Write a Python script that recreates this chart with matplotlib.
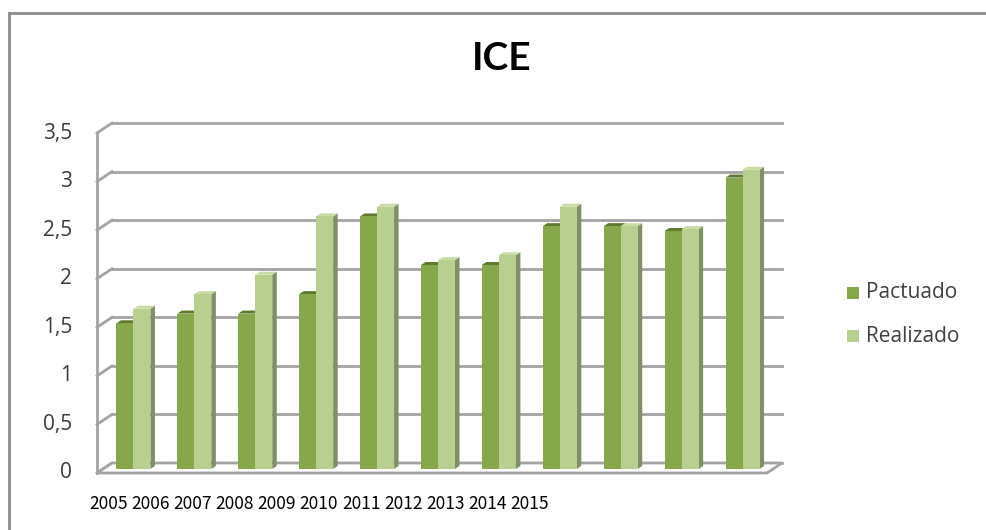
import numpy as np
import matplotlib
matplotlib.use("Agg")
import matplotlib.pyplot as plt
from matplotlib.patches import Polygon
from matplotlib.lines import Line2D

years = ['2005', '2006', '2007', '2008', '2009', '2010', '2011', '2012', '2013', '2014', '2015']
pactuado = [1.5, 1.6, 1.6, 1.8, 2.6, 2.1, 2.1, 2.5, 2.5, 2.45, 3.0]
realizado = [1.65, 1.8, 2.0, 2.6, 2.7, 2.15, 2.2, 2.7, 2.5, 2.47, 3.08]
yticks = [0, 0.5, 1, 1.5, 2, 2.5, 3, 3.5]
yticklabels = ['0', '0,5', '1', '1,5', '2', '2,5', '3', '3,5']

W, H = 987, 530
fig = plt.figure(figsize=(W / 100, H / 100), dpi=100)

# plane of the bar fronts, in pixels
left_px, right_px, bottom_px, top_px = 103, 773, 469, 129
ax = fig.add_axes([left_px / W, 1 - bottom_px / H,
                   (right_px - left_px) / W, (bottom_px - top_px) / H])
ax.set_xlim(-0.5, 10.5)
ax.set_ylim(0, 3.5)
ax.axis('off')

ppx = (right_px - left_px) / 11.0   # pixels per x unit
ppy = (bottom_px - top_px) / 3.5    # pixels per y unit

def off(dx, dy):
    # pixel offset -> data offset (dy positive = up)
    return dx / ppx, dy / ppy

grid_col = '#a3a3a3'
back = off(9, 6)
front = off(-6, -4)
x0, x1 = -0.5, 10.5

# back wall grid + left wall diagonals
for v in yticks:
    ax.add_line(Line2D([x0 + back[0], x1 + back[0]], [v + back[1], v + back[1]],
                       color=grid_col, lw=2, clip_on=False, zorder=1))
    ax.add_line(Line2D([x0 + front[0], x0 + back[0]], [v + front[1], v + back[1]],
                       color=grid_col, lw=2, clip_on=False, zorder=1))
# left front edge
ax.add_line(Line2D([x0 + front[0], x0 + front[0]], [front[1], 3.5 + front[1]],
                   color=grid_col, lw=2, clip_on=False, zorder=1))
# floor
floor = Polygon([(x0 + front[0], front[1]), (x1 + front[0], front[1]),
                 (x1 + back[0], back[1]), (x0 + back[0], back[1])],
                closed=True, facecolor='white', edgecolor=grid_col, lw=2,
                clip_on=False, zorder=1)
ax.add_patch(floor)

# bars with pseudo depth
w = 17 / ppx
dep = off(4.5, 3)
x = np.arange(len(years))
styles = [
    (pactuado, -w, '#86a84a', '#6a8a36', '#5f7a2e'),
    (realizado, 0, '#b8cf8f', '#7f8f66', '#c8dba4'),
]
for i in range(len(years)):
    for vals, shift, face, side, top in styles:
        xl = x[i] + shift
        xr = xl + w
        h = vals[i]
        ax.add_patch(Polygon([(xr, 0), (xr + dep[0], dep[1]), (xr + dep[0], h + dep[1]), (xr, h)],
                             closed=True, facecolor=side, edgecolor='none', clip_on=False, zorder=2))
        ax.add_patch(Polygon([(xl, h), (xr, h), (xr + dep[0], h + dep[1]), (xl + dep[0], h + dep[1])],
                             closed=True, facecolor=top, edgecolor='none', clip_on=False, zorder=2))
        ax.bar(xl, h, width=w, align='edge', color=face, edgecolor='none', zorder=2, clip_on=False)

# y tick labels at the front edge
for v, lab in zip(yticks, yticklabels):
    ax.text(x0 + front[0] - 25 / ppx, v + front[1], lab, ha='right', va='center',
            fontsize=15, family='Open Sans', color='#3a3a3a')

# year labels (row below chart, not aligned with bars)
lx = ax.inset_axes([87 / W, 0.0, (551 - 87) / W, 1.0], transform=fig.transFigure)
lx.set_xlim(-0.5, 10.5)
lx.set_ylim(0, 1)
lx.axis('off')
for i, y in enumerate(years):
    lx.text(i, (H - 504) / H, y, ha='center', va='center', fontsize=12.5,
            family=['Noto Sans CJK JP', 'DejaVu Sans'], color='black')

# title
fig.text(502 / W, 1 - 59 / H, 'ICE', ha='center', va='center', fontsize=28,
         family='Lato', fontweight='bold', color='black')

# legend
for k, (lab, col) in enumerate([('Pactuado', '#86a84a'), ('Realizado', '#b8cf8f')]):
    yy = 1 - (293 + k * 43) / H
    fig.patches.append(plt.Rectangle((847 / W, yy - 6 / H), 12 / W, 12 / H,
                                     transform=fig.transFigure, facecolor=col,
                                     edgecolor='none'))
    fig.text(866 / W, yy, lab, ha='left', va='center', fontsize=15,
             family='Open Sans', color='#404040')

# chart frame (left and top)
fig.add_artist(Line2D([9 / W, 9 / W], [0, 1 - 13 / H], transform=fig.transFigure,
                      color='#8c8c8c', lw=2))
fig.add_artist(Line2D([9 / W, 1], [1 - 13 / H, 1 - 13 / H], transform=fig.transFigure,
                      color='#8c8c8c', lw=2))

fig.savefig('out.png', dpi=100)
